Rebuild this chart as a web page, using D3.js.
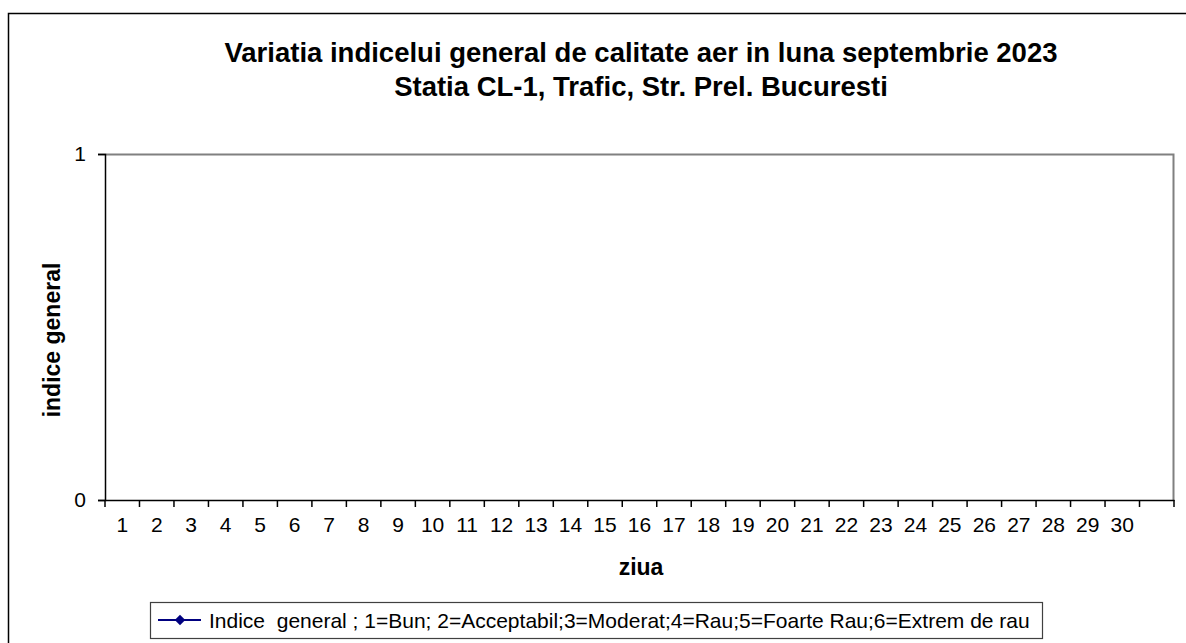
<!DOCTYPE html>
<html>
<head>
<meta charset="utf-8">
<script src="https://cdn.jsdelivr.net/npm/d3@7"></script>
<style>
  body { margin: 0; background: #fff; }
  text { font-family: "Liberation Sans", Arial, sans-serif; fill: #000; }
</style>
</head>
<body>
<script>
// zilele lunii (31 de sloturi pe axa, ultimul fara eticheta)
const days = d3.range(1, 32);
const dayLabels = days.map(d => d <= 30 ? String(d) : "");
// nu exista valori masurate in luna respectiva
const indexValues = days.slice(0, 30).map(d => null);
const yTicks = [0, 1];
const titleLines = [
  "Variatia indicelui general de calitate aer in luna septembrie 2023",
  "Statia CL-1, Trafic, Str. Prel. Bucuresti"
];
const legendText = "Indice  general ; 1=Bun; 2=Acceptabil;3=Moderat;4=Rau;5=Foarte Rau;6=Extrem de rau";

const width = 1186, height = 643;
const plot = {left: 105, right: 1174, top: 154, bottom: 500};

const svg = d3.select("body").append("svg")
  .attr("width", width)
  .attr("height", height);

// chenar exterior
svg.append("rect")
  .attr("x", 8.5).attr("y", 13.5)
  .attr("width", width + 20).attr("height", height + 20)
  .attr("fill", "none").attr("stroke", "#000").attr("stroke-width", 1.5);

const x = d3.scaleBand().domain(days).range([plot.left, plot.right]);
const y = d3.scaleLinear().domain([0, 1]).range([plot.bottom, plot.top]);

// cadru zona grafic (sus si dreapta gri)
svg.append("path")
  .attr("d", `M${plot.left},${plot.top + 0.5}H${plot.right - 0.5}V${plot.bottom}`)
  .attr("fill", "none").attr("stroke", "#808080").attr("stroke-width", 2);

// axa Y
const yAxis = svg.append("g").attr("transform", `translate(${plot.left},0)`)
  .call(d3.axisLeft(y).tickValues(yTicks).tickSize(7).tickPadding(12).tickFormat(d3.format("d")));
yAxis.select(".domain").attr("stroke", "#000").attr("stroke-width", 1.5);
yAxis.selectAll(".tick line").attr("stroke", "#000").attr("stroke-width", 1.5);
yAxis.selectAll("text").attr("font-size", 21).attr("font-family", "Liberation Sans, Arial, sans-serif");

// axa X: etichete centrate, gradatii intre categorii
const xAxis = svg.append("g").attr("transform", `translate(0,${plot.bottom})`)
  .call(d3.axisBottom(x).tickSize(0).tickPadding(17).tickFormat((d, i) => dayLabels[i]));
xAxis.select(".domain").attr("stroke", "#000").attr("stroke-width", 1.5);
xAxis.selectAll("text").attr("font-size", 21).attr("font-family", "Liberation Sans, Arial, sans-serif");
xAxis.selectAll(".edge").data(days.concat([32]))
  .join("line")
  .attr("x1", d => d <= 31 ? x(d) : plot.right)
  .attr("x2", d => d <= 31 ? x(d) : plot.right)
  .attr("y1", 0).attr("y2", 7)
  .attr("stroke", "#000").attr("stroke-width", 1.5);

// seria (goala)
const line = d3.line()
  .defined(d => d != null)
  .x((d, i) => x(days[i]) + x.bandwidth() / 2)
  .y(d => y(d));
svg.append("path").datum(indexValues)
  .attr("d", line).attr("fill", "none").attr("stroke", "#000080").attr("stroke-width", 2);

// titlu
svg.append("text")
  .attr("x", 641).attr("y", 62)
  .attr("text-anchor", "middle").attr("font-size", 27.5).attr("font-weight", "bold")
  .selectAll("tspan").data(titleLines).join("tspan")
  .attr("x", 641).attr("dy", (d, i) => i === 0 ? 0 : 34)
  .text(d => d);

// titluri axe
svg.append("text")
  .attr("x", 641).attr("y", 575)
  .attr("text-anchor", "middle").attr("font-size", 23).attr("font-weight", "bold")
  .text("ziua");
svg.append("text")
  .attr("transform", "translate(60,340) rotate(-90)")
  .attr("text-anchor", "middle").attr("font-size", 23).attr("font-weight", "bold")
  .text("indice general");

// legenda
const legend = svg.append("g");
legend.append("rect")
  .attr("x", 150.5).attr("y", 602.5).attr("width", 892).attr("height", 36)
  .attr("fill", "#fff").attr("stroke", "#404040").attr("stroke-width", 1.2);
legend.append("line")
  .attr("x1", 158).attr("x2", 201).attr("y1", 620).attr("y2", 620)
  .attr("stroke", "#000080").attr("stroke-width", 2);
legend.append("path")
  .attr("d", d3.symbol(d3.symbolDiamond2, 70)())
  .attr("transform", "translate(180,620)")
  .attr("fill", "#000080");
legend.append("text")
  .attr("x", 209).attr("y", 628)
  .attr("font-size", 21)
  .style("white-space", "pre")
  .text(legendText);
</script>
</body>
</html>
